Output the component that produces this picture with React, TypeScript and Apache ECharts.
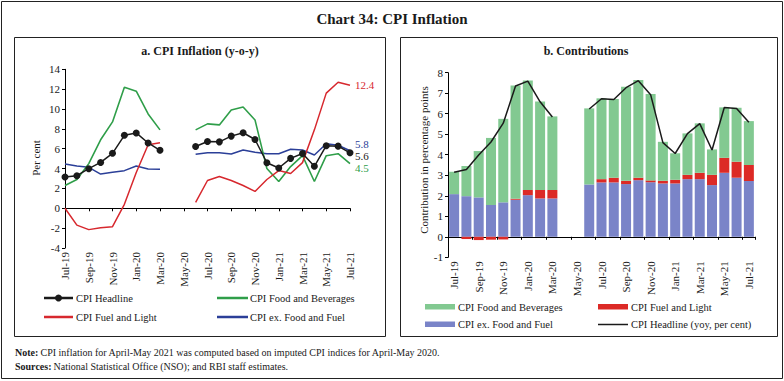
import { useEffect, useRef } from 'react';
import * as echarts from 'echarts';

const FONT = "'Liberation Serif', 'Times New Roman', serif";

const months = ['Jul-19','Aug-19','Sep-19','Oct-19','Nov-19','Dec-19','Jan-20','Feb-20','Mar-20','Apr-20','May-20','Jun-20','Jul-20','Aug-20','Sep-20','Oct-20','Nov-20','Dec-20','Jan-21','Feb-21','Mar-21','Apr-21','May-21','Jun-21','Jul-21'];

// Panel a: y-o-y inflation (per cent)
const headline = [3.15,3.28,3.99,4.62,5.54,7.35,7.59,6.58,5.84,null,null,6.23,6.73,6.69,7.27,7.61,6.93,4.59,4.06,5.03,5.52,4.23,6.30,6.26,5.59];
const foodBev = [2.3,2.9,4.5,6.9,8.7,12.2,11.8,9.5,7.9,null,null,7.9,8.5,8.4,9.9,10.2,8.9,4.0,2.7,4.2,5.3,2.7,5.3,5.5,4.5];
const fuelLight = [0.0,-1.7,-2.15,-1.95,-1.85,0.4,3.6,6.4,6.6,null,null,0.6,2.8,3.2,2.8,2.3,1.7,2.9,3.8,3.5,4.6,7.9,11.6,12.7,12.4];
const exFoodFuel = [4.45,4.26,4.13,3.45,3.62,3.79,4.26,3.96,3.93,null,null,5.45,5.6,5.6,5.47,5.87,5.64,5.5,5.5,5.94,5.87,5.37,6.5,6.35,5.8];

// Panel b: contributions (percentage points)
const ctbFood = [1.09,1.47,2.26,3.27,4.07,5.53,5.34,4.32,3.59,null,null,3.71,3.94,3.84,4.59,4.76,4.21,1.9,1.29,2.02,2.41,1.24,2.46,2.63,2.14];
const ctbFuel = [0,-0.11,-0.16,-0.14,-0.13,0.05,0.25,0.41,0.41,null,null,0,0.16,0.23,0.16,0.12,0.09,0.13,0.18,0.21,0.31,0.5,0.73,0.78,0.78];
const ctbCore = [2.08,1.98,1.92,1.55,1.68,1.80,2.03,1.87,1.87,null,null,2.55,2.65,2.65,2.57,2.76,2.66,2.6,2.6,2.81,2.81,2.52,3.12,2.88,2.72];

const C_BLACK = '#1a1a1a';
const C_GREEN = '#2f9e49';
const C_RED = '#d7282e';
const C_BLUE = '#2b3f98';
const B_GREEN = '#82c991';
const B_RED = '#dc2a26';
const B_BLUE = '#7a84c8';

const txt = (text: string, x: number, y: number, o: any = {}) => ({
  type: 'text',
  silent: true,
  rotation: o.rotation || 0,
  x, y,
  style: {
    text,
    fill: o.fill || '#1a1a1a',
    fontSize: o.fontSize || 11,
    fontFamily: FONT,
    fontWeight: o.fontWeight || 'normal',
    textAlign: o.align || 'left',
    textVerticalAlign: 'middle',
  },
});

export default function App() {
  const ref = useRef<HTMLDivElement>(null);
  useEffect(() => {
    const chart = echarts.init(ref.current!, null, { renderer: 'svg' });
    const catLabelAxis = (grid: number, boundaryGap: boolean) => ({
      gridIndex: grid, type: 'category', data: months, boundaryGap, position: 'bottom',
      axisLine: { show: false, onZero: false },
      axisTick: { show: false },
      splitLine: { show: false },
      axisLabel: { interval: 1, rotate: 90, margin: 4, fontSize: 11, fontFamily: FONT, color: '#1a1a1a' },
    });
    const catZeroAxis = (grid: number, boundaryGap: boolean) => ({
      gridIndex: grid, type: 'category', data: months, boundaryGap, position: 'bottom',
      axisLine: { show: true, onZero: true, lineStyle: { color: '#000', width: 1 } },
      axisTick: { show: true, interval: 1, length: 3, lineStyle: { color: '#000', width: 1 } },
      axisLabel: { show: false },
      splitLine: { show: false },
    });
    const valAxis = (grid: number, min: number, max: number, interval: number) => ({
      gridIndex: grid, type: 'value', min, max, interval,
      axisLine: { show: true, lineStyle: { color: '#000', width: 1 } },
      axisTick: { show: true, length: 3, lineStyle: { color: '#000' } },
      splitLine: { show: false },
      axisLabel: { margin: 5, fontSize: 11, fontFamily: FONT, color: '#1a1a1a' },
    });
    const endLbl = (color: string, dy: number) => ({
      show: true, distance: 5, offset: [0, dy], color, fontSize: 11, fontFamily: FONT,
      formatter: (p: any) => Number(p.value).toFixed(1),
    });

    const graphic: any[] = [
      { type: 'rect', silent: true, shape: { x: 1.5, y: 1.5, width: 781, height: 377 }, style: { fill: 'none', stroke: '#222', lineWidth: 1 } },
      txt('Chart 34: CPI Inflation', 392, 19, { fontSize: 15, fontWeight: 'bold', align: 'center' }),
      { type: 'rect', silent: true, shape: { x: 14.5, y: 37.5, width: 371, height: 299 }, style: { fill: 'none', stroke: '#222', lineWidth: 1 } },
      { type: 'rect', silent: true, shape: { x: 400.5, y: 37.5, width: 377, height: 299 }, style: { fill: 'none', stroke: '#222', lineWidth: 1 } },
      txt('a. CPI Inflation (y-o-y)', 200, 51, { fontSize: 12, fontWeight: 'bold', align: 'center' }),
      txt('b. Contributions', 586, 51, { fontSize: 12, fontWeight: 'bold', align: 'center' }),
      txt('Per cent', 36, 158, { align: 'center', rotation: Math.PI / 2 }),
      txt('Contribution in percentage points', 424, 160, { align: 'center', rotation: Math.PI / 2 }),
      // left legend
      { type: 'line', silent: true, shape: { x1: 44, y1: 298, x2: 73, y2: 298 }, style: { stroke: C_BLACK, lineWidth: 2.5 } },
      { type: 'circle', silent: true, shape: { cx: 58.5, cy: 298, r: 3.5 }, style: { fill: C_BLACK } },
      txt('CPI Headline', 76, 298, { fontSize: 10.5 }),
      { type: 'line', silent: true, shape: { x1: 217, y1: 298, x2: 248, y2: 298 }, style: { stroke: C_GREEN, lineWidth: 2.5 } },
      txt('CPI Food and Beverages', 250, 298, { fontSize: 10.5 }),
      { type: 'line', silent: true, shape: { x1: 44, y1: 317, x2: 73, y2: 317 }, style: { stroke: C_RED, lineWidth: 2.5 } },
      txt('CPI Fuel and Light', 76, 317, { fontSize: 10.5 }),
      { type: 'line', silent: true, shape: { x1: 217, y1: 317, x2: 248, y2: 317 }, style: { stroke: C_BLUE, lineWidth: 2.5 } },
      txt('CPI ex. Food and Fuel', 250, 317, { fontSize: 10.5 }),
      // right legend
      { type: 'rect', silent: true, shape: { x: 425, y: 304, width: 30, height: 5.5 }, style: { fill: B_GREEN } },
      txt('CPI Food and Beverages', 458, 307, { fontSize: 10.5 }),
      { type: 'rect', silent: true, shape: { x: 598, y: 304, width: 30, height: 5.5 }, style: { fill: B_RED } },
      txt('CPI Fuel and Light', 631, 307, { fontSize: 10.5 }),
      { type: 'rect', silent: true, shape: { x: 425, y: 321.5, width: 30, height: 5.5 }, style: { fill: B_BLUE } },
      txt('CPI ex. Food and Fuel', 458, 324.5, { fontSize: 10.5 }),
      { type: 'line', silent: true, shape: { x1: 598, y1: 324.5, x2: 628, y2: 324.5 }, style: { stroke: C_BLACK, lineWidth: 1.5 } },
      txt('CPI Headline (yoy, per cent)', 631, 324.5, { fontSize: 10.5 }),
      // notes
      txt('Note:', 15, 352, { fontSize: 10, fontWeight: 'bold' }),
      txt('CPI inflation for April-May 2021 was computed based on imputed CPI indices for April-May 2020.', 40.5, 352, { fontSize: 10 }),
      txt('Sources:', 15, 366, { fontSize: 10, fontWeight: 'bold' }),
      txt('National Statistical Office (NSO); and RBI staff estimates.', 53.5, 366, { fontSize: 10 }),
    ];

    const option: any = {
      animation: false,
      backgroundColor: '#fff',
      textStyle: { fontFamily: FONT },
      grid: [
        { left: 65, top: 69.3, width: 285, height: 178.7, containLabel: false },
        { left: 448, top: 72.7, width: 307, height: 184.6, containLabel: false },
      ],
      xAxis: [catLabelAxis(0, false), catZeroAxis(0, false), catLabelAxis(1, true), catZeroAxis(1, true)],
      yAxis: [valAxis(0, -4, 14, 2), valAxis(1, -1, 8, 1)],
      series: [
        { name: 'CPI ex. Food and Fuel', type: 'line', xAxisIndex: 0, yAxisIndex: 0, data: exFoodFuel, showSymbol: false, lineStyle: { color: C_BLUE, width: 1.5 }, itemStyle: { color: C_BLUE }, endLabel: endLbl(C_BLUE, -6.5), z: 2 },
        { name: 'CPI Food and Beverages', type: 'line', xAxisIndex: 0, yAxisIndex: 0, data: foodBev, showSymbol: false, lineStyle: { color: C_GREEN, width: 1.6 }, itemStyle: { color: C_GREEN }, endLabel: endLbl(C_GREEN, 4.7), z: 3 },
        { name: 'CPI Fuel and Light', type: 'line', xAxisIndex: 0, yAxisIndex: 0, data: fuelLight, showSymbol: false, lineStyle: { color: C_RED, width: 1.5 }, itemStyle: { color: C_RED }, endLabel: endLbl(C_RED, 0), z: 3 },
        { name: 'CPI Headline', type: 'line', xAxisIndex: 0, yAxisIndex: 0, data: headline, symbol: 'circle', symbolSize: 7, showSymbol: true, lineStyle: { color: C_BLACK, width: 1.5 }, itemStyle: { color: C_BLACK }, endLabel: endLbl(C_BLACK, 3.3), z: 4 },
        { name: 'CPI ex. Food and Fuel (contribution)', type: 'bar', stack: 'ctb', xAxisIndex: 2, yAxisIndex: 1, data: ctbCore, barWidth: 10, itemStyle: { color: B_BLUE } },
        { name: 'CPI Fuel and Light (contribution)', type: 'bar', stack: 'ctb', xAxisIndex: 2, yAxisIndex: 1, data: ctbFuel, barWidth: 10, itemStyle: { color: B_RED } },
        { name: 'CPI Food and Beverages (contribution)', type: 'bar', stack: 'ctb', xAxisIndex: 2, yAxisIndex: 1, data: ctbFood, barWidth: 10, itemStyle: { color: B_GREEN } },
        { name: 'CPI Headline (yoy, per cent)', type: 'line', xAxisIndex: 2, yAxisIndex: 1, data: headline, showSymbol: false, lineStyle: { color: C_BLACK, width: 1.5 }, itemStyle: { color: C_BLACK }, z: 5 },
      ],
      graphic,
    };
    chart.setOption(option);
    return () => chart.dispose();
  }, []);
  return <div ref={ref} style={{ position: 'absolute', left: 0, top: 0, width: 784, height: 381, background: '#fff' }} />;
}
